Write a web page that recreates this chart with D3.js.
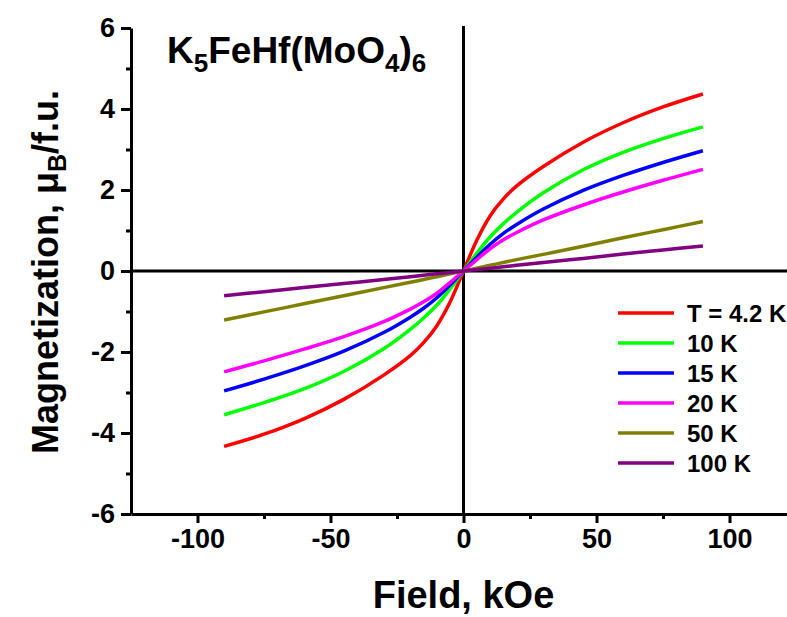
<!DOCTYPE html>
<html>
<head>
<meta charset="utf-8">
<script src="https://cdn.jsdelivr.net/npm/d3@7"></script>
<style>
  body { margin: 0; background: #fff; }
  text { font-family: "Liberation Sans", Arial, sans-serif; font-weight: bold; }
</style>
</head>
<body>
<div class="chart"></div>
<script>
// field values (kOe)
var field = [-90, -75, -60, -45, -30, -20, -15, -10, -5, 0, 5, 10, 15, 20, 30, 45, 60, 75, 90];

// magnetization (muB/f.u.)
var m4_2 = [-4.33, -4.03, -3.65, -3.17, -2.57, -2.09, -1.77, -1.35, -0.76, 0, 0.76, 1.36, 1.78, 2.1, 2.58, 3.18, 3.66, 4.05, 4.37];
var m10  = [-3.55, -3.25, -2.91, -2.48, -1.92, -1.44, -1.16, -0.84, -0.44, 0, 0.44, 0.84, 1.17, 1.45, 1.93, 2.5, 2.93, 3.27, 3.56];
var m15  = [-2.96, -2.67, -2.35, -1.98, -1.52, -1.14, -0.92, -0.66, -0.34, 0, 0.34, 0.66, 0.93, 1.15, 1.53, 1.99, 2.36, 2.68, 2.97];
var m20  = [-2.49, -2.22, -1.93, -1.62, -1.25, -0.94, -0.76, -0.55, -0.28, 0, 0.28, 0.55, 0.77, 0.95, 1.26, 1.63, 1.95, 2.24, 2.51];
var m50  = [-1.21, -1.01, -0.81, -0.61, -0.41, -0.28, -0.21, -0.14, -0.07, 0, 0.07, 0.14, 0.21, 0.28, 0.41, 0.61, 0.82, 1.02, 1.22];
var m100 = [-0.61, -0.51, -0.41, -0.31, -0.21, -0.14, -0.105, -0.07, -0.035, 0, 0.035, 0.07, 0.105, 0.14, 0.21, 0.31, 0.42, 0.52, 0.62];

var labels = ["T = 4.2 K", "10 K", "15 K", "20 K", "50 K", "100 K"];
var colors = ["#ff0000", "#00ff00", "#0000ff", "#ff00ff", "#808000", "#800080"];
var seriesValues = [m4_2, m10, m15, m20, m50, m100];

var xTicks = [-100, -50, 0, 50, 100];
var xMinor = [-75, -25, 25, 75];
var yTicks = [-6, -4, -2, 0, 2, 4, 6];
var yMinor = [-5, -3, -1, 1, 3, 5];

var W = 787, H = 617;

var svg = d3.select(".chart")
  .append("svg")
    .attr("width", W)
    .attr("height", H);

var x = d3.scaleLinear()
    .domain([-125, 125])
    .range([131, 796]);

var y = d3.scaleLinear()
    .domain([-6, 6])
    .range([514, 28]);

// plain hyphen for negatives, like the original
var fmt = function(d) { return String(d); };

// zero lines
svg.append("line")
    .attr("x1", x(0)).attr("x2", x(0))
    .attr("y1", y(6) - 2).attr("y2", y(-6))
    .attr("stroke", "#000").attr("stroke-width", 3);
svg.append("line")
    .attr("x1", x(-125)).attr("x2", W)
    .attr("y1", y(0)).attr("y2", y(0))
    .attr("stroke", "#000").attr("stroke-width", 3);

// curves
var line = d3.line()
    .x(function(d) { return x(d[0]); })
    .y(function(d) { return y(d[1]); })
    .curve(d3.curveCatmullRom.alpha(0.5));

seriesValues.forEach(function(vals, i) {
  svg.append("path")
      .datum(field.map(function(f, j) { return [f, vals[j]]; }))
      .attr("fill", "none")
      .attr("stroke", colors[i])
      .attr("stroke-width", 3.5)
      .attr("stroke-linejoin", "round")
      .attr("d", line);
});

// x axis
var xaxis = d3.axisBottom(x)
    .tickValues(xTicks)
    .tickFormat(fmt)
    .tickSize(9)
    .tickPadding(6)
    .tickSizeOuter(0);
var gx = svg.append("g")
    .attr("transform", "translate(0," + y(-6) + ")")
    .call(xaxis);
gx.selectAll(".tick line").attr("stroke-width", 3);
gx.select(".domain").attr("stroke-width", 3);
gx.selectAll("text").style("font-size", "27px").attr("fill", "#000");

var gxm = svg.append("g")
    .attr("transform", "translate(0," + y(-6) + ")")
    .call(d3.axisBottom(x).tickValues(xMinor).tickSize(5).tickFormat(""));
gxm.select(".domain").remove();
gxm.selectAll(".tick line").attr("stroke-width", 3);

// y axis
var yaxis = d3.axisLeft(y)
    .tickValues(yTicks)
    .tickFormat(fmt)
    .tickSize(10)
    .tickPadding(6)
    .tickSizeOuter(0);
var gy = svg.append("g")
    .attr("transform", "translate(" + x(-125) + ",0)")
    .call(yaxis);
gy.selectAll(".tick line").attr("stroke-width", 3);
gy.select(".domain").attr("stroke-width", 3);
gy.selectAll("text").style("font-size", "27px").attr("fill", "#000");

var gym = svg.append("g")
    .attr("transform", "translate(" + x(-125) + ",0)")
    .call(d3.axisLeft(y).tickValues(yMinor).tickSize(5).tickFormat(""));
gym.select(".domain").remove();
gym.selectAll(".tick line").attr("stroke-width", 3);

// axis titles
svg.append("text")
    .attr("x", x(0))
    .attr("y", 608)
    .attr("text-anchor", "middle")
    .style("font-size", "38px")
    .text("Field, kOe");

var ylab = svg.append("text")
    .attr("transform", "translate(58," + 272 + ") rotate(-90)")
    .attr("text-anchor", "middle")
    .style("font-size", "36px");
ylab.append("tspan").text("Magnetization, \u03bc");
ylab.append("tspan").attr("dy", 8).style("font-size", "25px").text("B");
ylab.append("tspan").attr("dy", -8).text("/f.u.");

// compound label
var title = svg.append("text")
    .attr("x", 167)
    .attr("y", 63)
    .style("font-size", "37px");
title.append("tspan").text("K");
title.append("tspan").attr("dy", 9).style("font-size", "26px").text("5");
title.append("tspan").attr("dy", -9).text("FeHf(MoO");
title.append("tspan").attr("dy", 9).style("font-size", "26px").text("4");
title.append("tspan").attr("dy", -9).text(")");
title.append("tspan").attr("dy", 9).style("font-size", "26px").text("6");

// legend
var legend = svg.append("g");
labels.forEach(function(lab, i) {
  var ly = 313 + i * 30;
  legend.append("line")
      .attr("x1", 618).attr("x2", 674)
      .attr("y1", ly).attr("y2", ly)
      .attr("stroke", colors[i])
      .attr("stroke-width", 3.5);
  legend.append("text")
      .attr("x", 687)
      .attr("y", ly + 9)
      .style("font-size", "24px")
      .text(lab);
});
</script>
</body>
</html>
